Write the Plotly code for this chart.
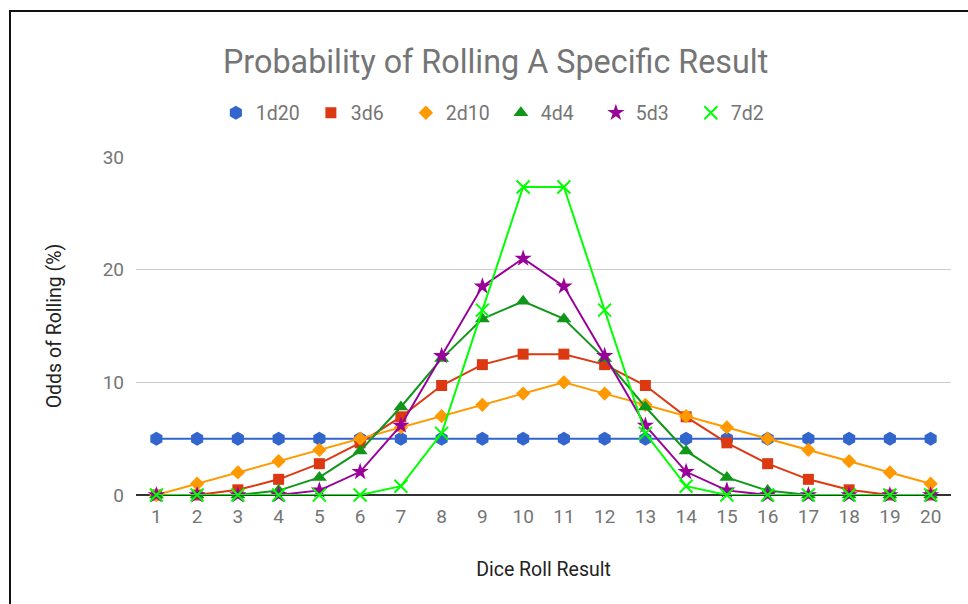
import plotly.graph_objects as go

# Dice roll results on the x axis
results = list(range(1, 21))

# Probability (%) of each result for the dice combinations
p_1d20 = [5.0] * 20
p_3d6 = [0, 0, 0.46, 1.39, 2.78, 4.63, 6.94, 9.72, 11.57, 12.5,
         12.5, 11.57, 9.72, 6.94, 4.63, 2.78, 1.39, 0.46, 0, 0]
p_2d10 = [0, 1, 2, 3, 4, 5, 6, 7, 8, 9,
          10, 9, 8, 7, 6, 5, 4, 3, 2, 1]
p_4d4 = [0, 0, 0, 0.39, 1.56, 3.91, 7.81, 12.11, 15.63, 17.19,
         15.63, 12.11, 7.81, 3.91, 1.56, 0.39, 0, 0, 0, 0]
p_5d3 = [0, 0, 0, 0, 0.41, 2.06, 6.17, 12.35, 18.52, 20.99,
         18.52, 12.35, 6.17, 2.06, 0.41, 0, 0, 0, 0, 0]
p_7d2 = [0, 0, 0, 0, 0, 0, 0.78, 5.47, 16.41, 27.34,
         27.34, 16.41, 5.47, 0.78, 0, 0, 0, 0, 0, 0]

series = [
    ("1d20", p_1d20, "#3366cc", "hexagon", 14),
    ("3d6", p_3d6, "#dc3912", "square", 11),
    ("2d10", p_2d10, "#ff9900", "diamond", 11),
    ("4d4", p_4d4, "#109618", "triangle-up", 13),
    ("5d3", p_5d3, "#990099", "star", 13),
    ("7d2", p_7d2, "#00ff00", "x-thin", 13),
]

fig = go.Figure()

for name, vals, color, symbol, size in series:
    marker = dict(color=color, symbol=symbol, size=size)
    if symbol == "x-thin":
        marker["line"] = dict(color=color, width=2)
    else:
        marker["line"] = dict(width=0)
    # data trace (line + markers)
    fig.add_trace(go.Scatter(
        x=results, y=vals, mode="lines+markers", name=name,
        line=dict(color=color, width=2), marker=marker,
        showlegend=False, cliponaxis=False, legendgroup=name,
    ))
    # legend entry showing only the marker shape
    fig.add_trace(go.Scatter(
        x=[None], y=[None], mode="markers", name=name,
        marker=marker, showlegend=True, legendgroup=name,
    ))

# chart frame
fig.add_shape(type="rect", xref="paper", yref="paper",
              x0=-0.1546, x1=1.2, y0=-0.6, y1=1.432,
              line=dict(color="#111111", width=2), layer="above")

fig.update_layout(
    width=968, height=604,
    margin=dict(l=136, r=17, t=157, b=109, autoexpand=False),
    paper_bgcolor="white", plot_bgcolor="white",
    font=dict(family="Roboto, Arial, sans-serif", color="#757575", size=19),
    title=dict(text="Probability of Rolling A Specific Result",
               x=0.512, xanchor="center", xref="container",
               y=1 - 62 / 604, yanchor="middle", yref="container",
               font=dict(size=32.3, color="#757575")),
    legend=dict(orientation="h", x=0.098, xanchor="left",
                y=1.130, yanchor="middle",
                entrywidth=50, entrywidthmode="pixels",
                font=dict(size=19.5, color="#757575"),
                itemclick=False, itemdoubleclick=False),
    xaxis=dict(range=[0.5, 20.5], tickvals=results, showgrid=False,
               zeroline=False, showline=False, ticks="",
               ticklabelstandoff=8,
               tickfont=dict(size=19, color="#757575"),
               title=dict(text="Dice Roll Result",
                          font=dict(size=19.5, color="#222222"), standoff=35)),
    yaxis=dict(range=[0, 30], tickvals=[0, 10, 20, 30],
               showgrid=True, gridcolor="#cccccc", gridwidth=1,
               zeroline=True, zerolinecolor="#333333", zerolinewidth=1.5,
               showline=False, ticks="", ticklabelstandoff=11,
               tickfont=dict(size=19, color="#757575"),
               title=dict(text="Odds of Rolling (%)",
                          font=dict(size=19.5, color="#222222"), standoff=35)),
)

fig.write_html("out.html")
